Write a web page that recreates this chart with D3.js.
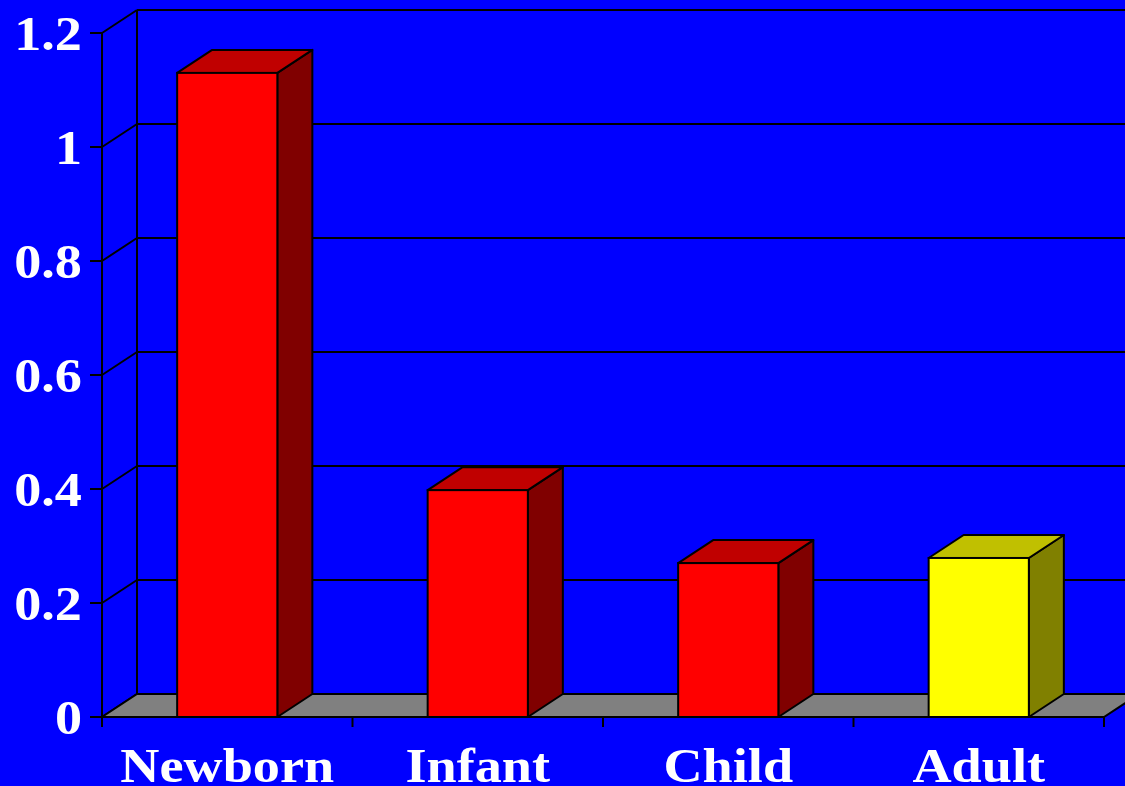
<!DOCTYPE html>
<html>
<head>
<meta charset="utf-8">
<script src="https://cdn.jsdelivr.net/npm/d3@7"></script>
<style>
  html, body { margin: 0; padding: 0; background: #0000ff; }
  svg { display: block; }
  .lbl { font-family: "Liberation Serif", "Times New Roman", serif; font-weight: bold; font-size: 48px; fill: #fff; }
</style>
</head>
<body>
<div id="chart"></div>
<script>
// data
const categories = ["Newborn", "Infant", "Child", "Adult"];
const values = [1.13, 0.398, 0.27, 0.279];
const barColors = ["red", "red", "red", "yellow"];
const yTicks = [0, 0.2, 0.4, 0.6, 0.8, 1, 1.2];
const yLabels = ["0", "0.2", "0.4", "0.6", "0.8", "1", "1.2"];

const W = 1125, H = 786;
const dx = 35, dy = -23; // 3d depth offset
const shades = {
  red:    { front: "#ff0000", top: "#c00000", side: "#800000" },
  yellow: { front: "#ffff00", top: "#c0c000", side: "#808000" }
};

const svg = d3.select("#chart").append("svg")
  .attr("width", W).attr("height", H);

svg.append("rect").attr("width", W).attr("height", H).attr("fill", "#0000ff");

const x = d3.scaleBand()
  .domain(categories)
  .range([102, 1104])
  .paddingInner(0.6)
  .paddingOuter(0.3);

const y = d3.scaleLinear().domain([0, 1.2]).range([717, 33]);

const x0 = x.range()[0], x1 = x.range()[1];
const step = x.step();

// back wall gridlines
svg.append("g").selectAll("line").data(yTicks).join("line")
  .attr("x1", x0 + dx).attr("x2", W + 5)
  .attr("y1", d => y(d) + dy).attr("y2", d => y(d) + dy)
  .attr("stroke", "#000").attr("stroke-width", 2);

// side wall diagonals
svg.append("g").selectAll("line").data(yTicks).join("line")
  .attr("x1", x0).attr("x2", x0 + dx)
  .attr("y1", d => y(d)).attr("y2", d => y(d) + dy)
  .attr("stroke", "#000").attr("stroke-width", 2);

// back wall corner
svg.append("line")
  .attr("x1", x0 + dx).attr("x2", x0 + dx)
  .attr("y1", y(1.2) + dy).attr("y2", y(0) + dy)
  .attr("stroke", "#000").attr("stroke-width", 2);

// floor
svg.append("polygon")
  .attr("points", [[x0, y(0)], [x1, y(0)], [x1 + dx, y(0) + dy], [x0 + dx, y(0) + dy]].join(" "))
  .attr("fill", "#808080").attr("stroke", "#000").attr("stroke-width", 2);

// bars
const bars = svg.append("g").selectAll("g").data(categories).join("g");
bars.each(function(c, i) {
  const g = d3.select(this);
  const bx = x(c), bw = x.bandwidth();
  const top = y(values[i]), base = y(0);
  const s = shades[barColors[i]];
  g.append("polygon")
    .attr("points", [[bx + bw, top], [bx + bw + dx, top + dy], [bx + bw + dx, base + dy], [bx + bw, base]].join(" "))
    .attr("fill", s.side).attr("stroke", "#000").attr("stroke-width", 2).attr("stroke-linejoin", "round");
  g.append("polygon")
    .attr("points", [[bx, top], [bx + dx, top + dy], [bx + bw + dx, top + dy], [bx + bw, top]].join(" "))
    .attr("fill", s.top).attr("stroke", "#000").attr("stroke-width", 2).attr("stroke-linejoin", "round");
  g.append("rect")
    .attr("x", bx).attr("y", top).attr("width", bw).attr("height", base - top)
    .attr("fill", s.front).attr("stroke", "#000").attr("stroke-width", 2);
});

// front value axis
svg.append("line")
  .attr("x1", x0).attr("x2", x0)
  .attr("y1", y(1.2)).attr("y2", y(0) + 10)
  .attr("stroke", "#000").attr("stroke-width", 2);
svg.append("g").selectAll("line").data(yTicks).join("line")
  .attr("x1", x0 - 12).attr("x2", x0)
  .attr("y1", d => y(d)).attr("y2", d => y(d))
  .attr("stroke", "#000").attr("stroke-width", 2);

// category axis line + boundary ticks
svg.append("line")
  .attr("x1", x0).attr("x2", x1)
  .attr("y1", y(0)).attr("y2", y(0))
  .attr("stroke", "#000").attr("stroke-width", 2);
svg.append("g").selectAll("line").data(d3.range(categories.length + 1)).join("line")
  .attr("x1", i => x0 + i * step).attr("x2", i => x0 + i * step)
  .attr("y1", y(0)).attr("y2", y(0) + 10)
  .attr("stroke", "#000").attr("stroke-width", 2);

// y labels
svg.append("g").selectAll("text").data(yTicks).join("text")
  .attr("class", "lbl")
  .attr("text-anchor", "end")
  .attr("transform", d => `translate(82,${y(d) + 17}) scale(1.13,1)`)
  .text((d, i) => yLabels[i]);

// category labels
svg.append("g").selectAll("text").data(categories).join("text")
  .attr("class", "lbl")
  .attr("text-anchor", "middle")
  .attr("transform", c => `translate(${x(c) + x.bandwidth() / 2},782) scale(1.13,1)`)
  .text(c => c);
</script>
</body>
</html>
